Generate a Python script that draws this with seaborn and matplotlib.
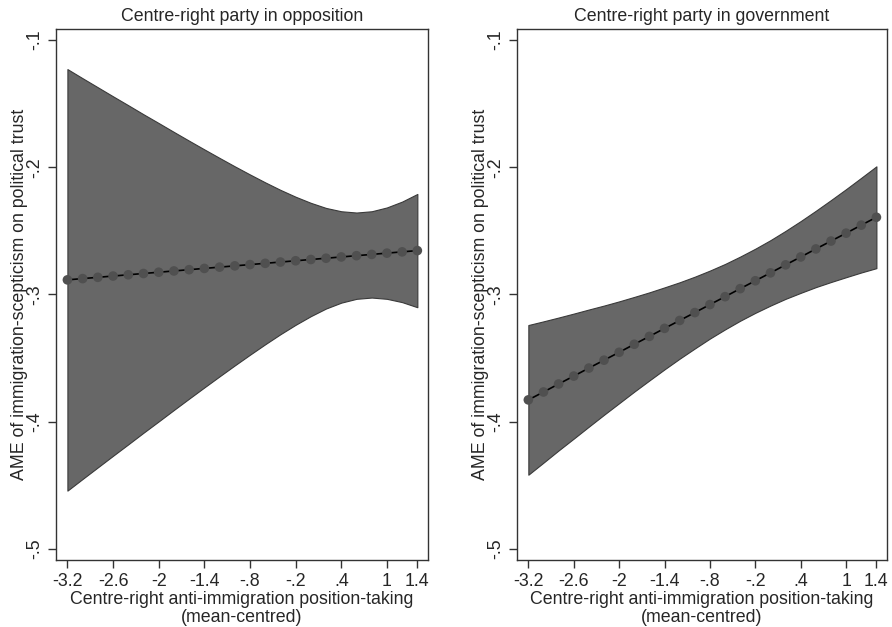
import numpy as np
import pandas as pd
import matplotlib
matplotlib.use("Agg")
import matplotlib.pyplot as plt
import seaborn as sns

sns.set_theme(style="white")
plt.rcParams['font.family'] = ['Liberation Sans', 'DejaVu Sans']

x_vals = [-3.2, -3.0, -2.8, -2.6, -2.4, -2.2, -2.0, -1.8, -1.6, -1.4, -1.2, -1.0,
          -0.8, -0.6, -0.4, -0.2, 0.0, 0.2, 0.4, 0.6, 0.8, 1.0, 1.2, 1.4]

opp_ame = [-0.2885, -0.2875, -0.2865, -0.2855, -0.2845, -0.2835, -0.2825, -0.2815,
           -0.2805, -0.2795, -0.2785, -0.2775, -0.2765, -0.2755, -0.2745, -0.2735,
           -0.2725, -0.2715, -0.2705, -0.2695, -0.2685, -0.2675, -0.2665, -0.2655]
opp_upper = [-0.1229, -0.1301, -0.1372, -0.1443, -0.1513, -0.1584, -0.1653, -0.1723,
             -0.1792, -0.1860, -0.1927, -0.1993, -0.2057, -0.2119, -0.2178, -0.2232,
             -0.2280, -0.2320, -0.2346, -0.2356, -0.2346, -0.2316, -0.2270, -0.2210]
opp_lower = [-0.4541, -0.4449, -0.4358, -0.4267, -0.4177, -0.4086, -0.3997, -0.3907,
             -0.3818, -0.3730, -0.3643, -0.3557, -0.3473, -0.3391, -0.3312, -0.3238,
             -0.3170, -0.3110, -0.3064, -0.3034, -0.3024, -0.3034, -0.3060, -0.3100]

gov_ame = [-0.3828, -0.3766, -0.3703, -0.3641, -0.3578, -0.3516, -0.3454, -0.3391,
           -0.3329, -0.3266, -0.3204, -0.3142, -0.3079, -0.3017, -0.2954, -0.2892,
           -0.2830, -0.2767, -0.2705, -0.2642, -0.2580, -0.2518, -0.2455, -0.2393]
gov_upper = [-0.3240, -0.3211, -0.3181, -0.3150, -0.3118, -0.3087, -0.3054, -0.3019,
             -0.2983, -0.2944, -0.2904, -0.2860, -0.2812, -0.2760, -0.2702, -0.2640,
             -0.2573, -0.2500, -0.2423, -0.2342, -0.2258, -0.2172, -0.2083, -0.1993]
gov_lower = [-0.4416, -0.4321, -0.4225, -0.4132, -0.4038, -0.3945, -0.3854, -0.3763,
             -0.3675, -0.3588, -0.3504, -0.3424, -0.3346, -0.3274, -0.3206, -0.3144,
             -0.3087, -0.3034, -0.2987, -0.2942, -0.2902, -0.2864, -0.2827, -0.2793]

titles = ["Centre-right party in opposition", "Centre-right party in government"]
x_ticks = [-3.2, -2.6, -2.0, -1.4, -0.8, -0.2, 0.4, 1.0, 1.4]
x_ticklabels = ["-3.2", "-2.6", "-2", "-1.4", "-.8", "-.2", ".4", "1", "1.4"]
y_ticks = [-0.1, -0.2, -0.3, -0.4, -0.5]
y_ticklabels = ["-.1", "-.2", "-.3", "-.4", "-.5"]
xlabel = "Centre-right anti-immigration position-taking\n(mean-centred)"
ylabel = "AME of immigration-scepticism on political trust"

panels = [
    pd.DataFrame({"x": x_vals, "ame": opp_ame, "lo": opp_lower, "hi": opp_upper}),
    pd.DataFrame({"x": x_vals, "ame": gov_ame, "lo": gov_lower, "hi": gov_upper}),
]

fig = plt.figure(figsize=(8.92, 6.27), dpi=100)
ax_pos = [[56/892, 1-560/627, 372/892, 531/627],
          [517/892, 1-560/627, 370/892, 531/627]]

FS = 12.8
for k, df in enumerate(panels):
    ax = fig.add_axes(ax_pos[k])
    ax.fill_between(df["x"], df["lo"], df["hi"], color="#676767",
                    edgecolor="#3a3a3a", linewidth=0.8, zorder=1)
    sns.lineplot(data=df, x="x", y="ame", ax=ax, color="black", linewidth=1.2,
                 zorder=2, legend=False)
    sns.scatterplot(data=df, x="x", y="ame", ax=ax, color="#505050", s=48,
                    edgecolor="none", zorder=3, legend=False)
    ax.set_xlim(-3.35, 1.54)
    ax.set_ylim(-0.5086, -0.0914)
    ax.set_xticks(x_ticks)
    ax.set_xticklabels(x_ticklabels, fontsize=FS)
    ax.set_yticks(y_ticks)
    ax.set_yticklabels(y_ticklabels, fontsize=FS, rotation=90, va="center")
    ax.tick_params(axis="both", which="major", direction="out", length=6,
                   width=1, color="#333333", bottom=True, left=True, pad=3)
    for sp in ax.spines.values():
        sp.set_color("#333333")
        sp.set_linewidth(1.0)
    ax.set_xlabel(xlabel, fontsize=FS, linespacing=1.1, labelpad=1)
    ax.set_ylabel(ylabel, fontsize=FS, labelpad=-1)
    ax.set_title(titles[k], fontsize=FS, pad=6)

fig.savefig("out.png", dpi=100, facecolor="white")
